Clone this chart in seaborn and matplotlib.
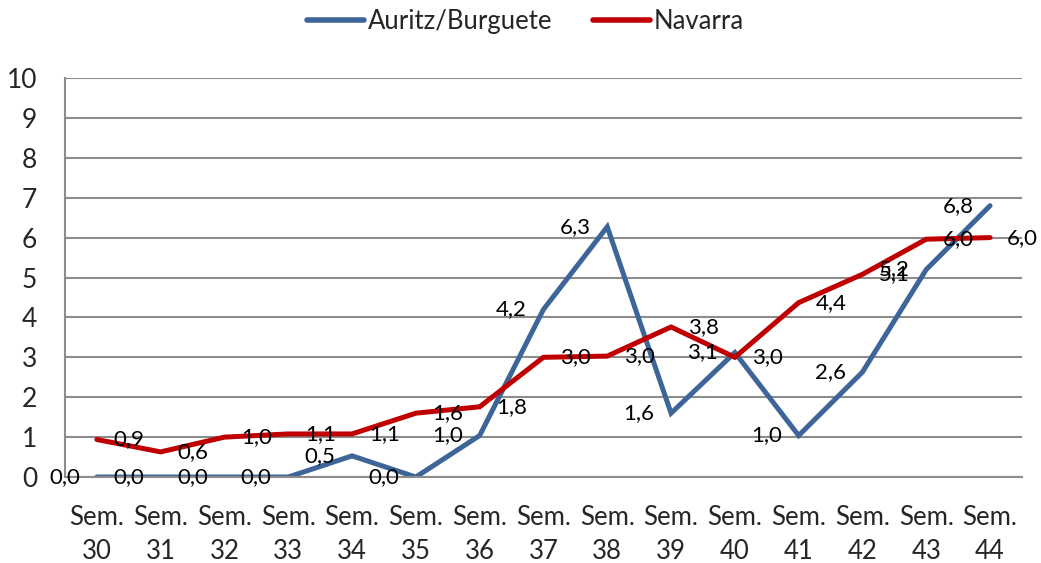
import numpy as np
import pandas as pd
import seaborn as sns
from matplotlib import pyplot as plt

# --- data --- #
semanas = ["Sem.\n%d" % s for s in range(30, 45)]
auritz = [0.0, 0.0, 0.0, 0.0, 0.53, 0.0, 1.04, 4.2, 6.27, 1.6, 3.12, 1.04, 2.63, 5.2, 6.8]
navarra = [0.94, 0.63, 1.0, 1.08, 1.08, 1.6, 1.76, 3.0, 3.03, 3.76, 3.0, 4.37, 5.08, 5.96, 6.0]
series = ["Auritz/Burguete", "Navarra"]
colores = ["#3D6598", "#C00000"]

df = pd.DataFrame({
    "idx": list(range(len(semanas))) * 2,
    "valor": auritz + navarra,
    "serie": [series[0]] * len(auritz) + [series[1]] * len(navarra),
})

sns.set_style("white")
plt.rcParams['font.family'] = ['Lato', 'DejaVu Sans']

fig = plt.figure(figsize=(10.41, 5.63), dpi=100)
ax = fig.add_axes([0.0624, 0.1527, 0.9193, 0.7088])

sns.lineplot(data=df, x="idx", y="valor", hue="serie", palette=colores,
             linewidth=3.6, ax=ax, legend=True)
for ln in ax.lines:
    ln.set_solid_capstyle("round")
    ln.set_solid_joinstyle("miter")

def fmt(v):
    return ("%.1f" % v).replace(".", ",")

# data labels: blue to the left, red to the right
for i, v in enumerate(auritz):
    ax.annotate(fmt(v), (i, v), xytext=(-12, 0), textcoords="offset points",
                ha="right", va="center", fontsize=16, color="black")
for i, v in enumerate(navarra):
    ax.annotate(fmt(v), (i, v), xytext=(12, 0), textcoords="offset points",
                ha="left", va="center", fontsize=16, color="black")

grid_c = "#8C8C8C"
ax.set_xlim(-0.5, len(semanas) - 0.5)
ax.set_ylim(0, 10)
ax.set_yticks(range(0, 11))
ax.yaxis.grid(True, color=grid_c, linewidth=1.5)
ax.set_axisbelow(True)

ax.set_xticks(range(len(semanas)))
ax.set_xticklabels(semanas, fontsize=18.5, linespacing=1.45)
ax.set_xticks(np.arange(-0.5, len(semanas), 1.0), minor=True)
ax.tick_params(axis="x", which="major", length=0, pad=20)
ax.tick_params(axis="x", which="minor", length=7, width=1.5, color=grid_c, direction="out")
ax.tick_params(axis="y", length=6, width=1.5, color=grid_c, labelsize=19, pad=14, direction="out")
ax.set_xlabel("")
ax.set_ylabel("")

for s in ["top", "right"]:
    ax.spines[s].set_visible(False)
for s in ["left", "bottom"]:
    ax.spines[s].set_color(grid_c)
    ax.spines[s].set_linewidth(1.5)

handles, labels = ax.get_legend_handles_labels()
ax.legend_.remove()
leg = fig.legend(handles, labels, loc="center", bbox_to_anchor=(0.505, 0.961), ncol=2,
                 frameon=False, fontsize=18.5, handlelength=2.2, handletextpad=0.15,
                 columnspacing=1.6)
for h in leg.get_lines():
    h.set_linewidth(4)
    h.set_solid_capstyle("round")

fig.savefig("out.png", dpi=100)
